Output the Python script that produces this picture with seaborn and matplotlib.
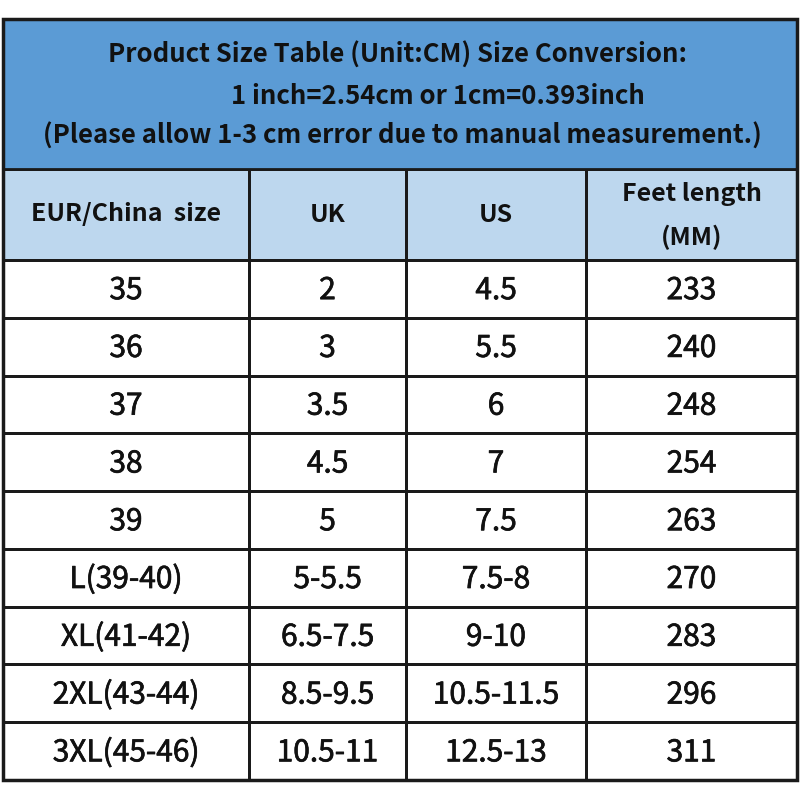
import numpy as np
import matplotlib
matplotlib.use("Agg")
import matplotlib.pyplot as plt
from matplotlib.colors import ListedColormap
from matplotlib.patches import Rectangle
import matplotlib.patheffects as pe
import seaborn as sns

sns.set_theme(style="white")
plt.rcParams['font.family'] = ['Noto Sans CJK SC', 'DejaVu Sans']

# ---- data ----
title_lines = ["Product Size Table (Unit:CM) Size Conversion:",
               "1 inch=2.54cm or 1cm=0.393inch",
               "(Please allow 1-3 cm error due to manual measurement.)"]
headers = ["EUR/China  size", "UK", "US", "Feet length\n(MM)"]
eur_china = ["35", "36", "37", "38", "39", "L(39-40)", "XL(41-42)", "2XL(43-44)", "3XL(45-46)"]
uk = ["2", "3", "3.5", "4.5", "5", "5-5.5", "6.5-7.5", "8.5-9.5", "10.5-11"]
us = ["4.5", "5.5", "6", "7", "7.5", "7.5-8", "9-10", "10.5-11.5", "12.5-13"]
feet_mm = [233, 240, 248, 254, 263, 270, 283, 296, 311]

TITLE_BLUE = "#5b9bd5"
HEAD_BLUE = "#bdd7ee"
LINE = "#1a1a1a"
TXT = "#111111"

W = H = 800
fig = plt.figure(figsize=(8, 8), dpi=100)
fig.patch.set_facecolor("white")

def frac_rect(x0, y0, x1, y1):
    return [x0 / W, 1 - y1 / H, (x1 - x0) / W, (y1 - y0) / H]

# title band
tax = fig.add_axes(frac_rect(3, 19, 797, 169))
tax.set_facecolor(TITLE_BLUE)
tax.set_xlim(3, 797); tax.set_ylim(169, 19)
tax.set_xticks([]); tax.set_yticks([])
for s in tax.spines.values():
    s.set_visible(False)
for txt, cx, cy in zip(title_lines, [397, 438, 402], [55, 96, 136]):
    tax.text(cx, cy, txt, ha="center", va="center", fontsize=18.5,
             fontweight="bold", color=TXT)

col_edges = [3, 249, 406, 586, 797]
columns = [eur_china, uk, us, [str(v) for v in feet_mm]]
HEAD_TOP, HEAD_BOT, BODY_BOT = 169, 260, 780
thick = [pe.withStroke(linewidth=0.5, foreground=TXT)]

for ci, col in enumerate(columns):
    x0, x1 = col_edges[ci], col_edges[ci + 1]
    # header cell
    hax = fig.add_axes(frac_rect(x0, HEAD_TOP, x1, HEAD_BOT))
    sns.heatmap(np.ones((1, 1)), ax=hax, cmap=ListedColormap([HEAD_BLUE]),
                vmin=0, vmax=1, cbar=False, linewidths=2, linecolor=LINE,
                xticklabels=False, yticklabels=False)
    hdr = headers[ci]
    if "\n" in hdr:
        a, b = hdr.split("\n")
        hax.text(0.5, 0.27, a, ha="center", va="center", fontsize=18,
                 fontweight="bold", color=TXT)
        hax.text(0.5, 0.75, b, ha="center", va="center", fontsize=18,
                 fontweight="bold", color=TXT)
    else:
        hax.text(0.5, 0.5, hdr, ha="center", va="center", fontsize=18,
                 fontweight="bold", color=TXT)
    # body cells
    bax = fig.add_axes(frac_rect(x0, HEAD_BOT, x1, BODY_BOT))
    n = len(col)
    labels = np.array([[v] for v in col], dtype=object)
    sns.heatmap(np.zeros((n, 1)), ax=bax, cmap=ListedColormap(["white"]),
                vmin=0, vmax=1, cbar=False, annot=labels, fmt="",
                linewidths=2, linecolor=LINE,
                xticklabels=False, yticklabels=False,
                annot_kws=dict(fontsize=21.5, color=TXT, path_effects=thick))
    for t in bax.texts:
        x, y = t.get_position()
        t.set_position((x, y + 0.03))

# outer border and band separators
fig.patches.append(Rectangle((3 / W, 1 - 780 / H), 794 / W, 761 / H,
                             transform=fig.transFigure, fill=False,
                             edgecolor=LINE, linewidth=2.5))
for yy in (HEAD_TOP, HEAD_BOT):
    fig.add_artist(plt.Line2D([3 / W, 797 / W], [1 - yy / H, 1 - yy / H],
                              transform=fig.transFigure, color=LINE, linewidth=2))

fig.savefig("out.png", dpi=100, facecolor="white")
